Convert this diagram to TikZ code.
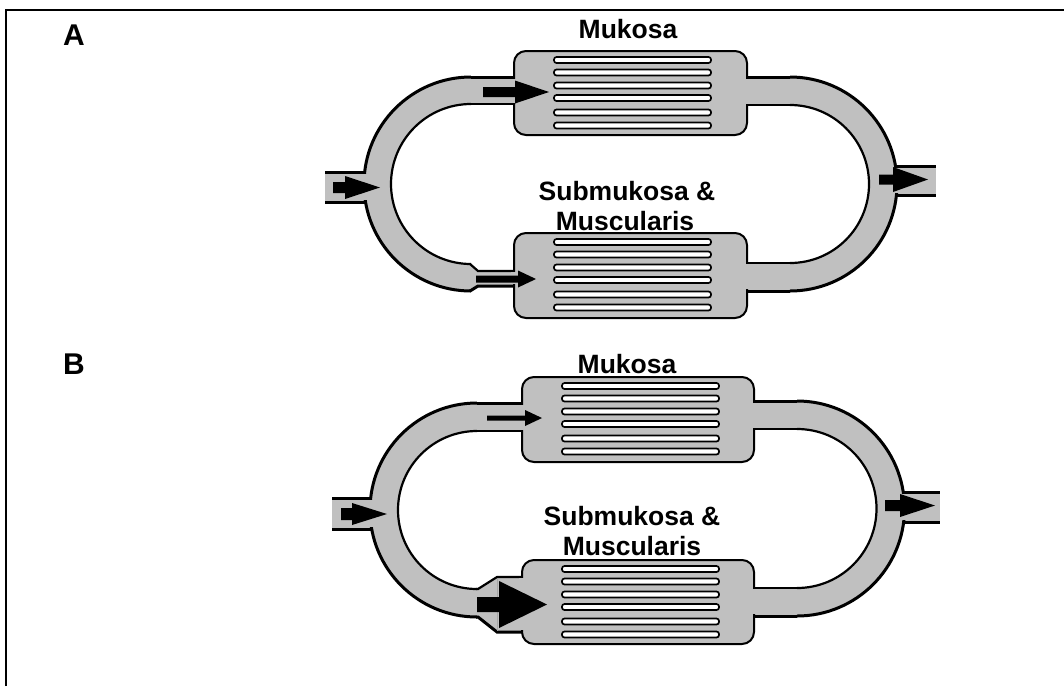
\documentclass[tikz,border=0pt]{standalone}
\usepackage{fontspec}
\setmainfont{Liberation Sans}
\definecolor{tube}{RGB}{192,192,192}

% solid flow arrow: shaft from #1 to #2, head from #2 to tip #3, axis at #4,
% shaft half-height #5, head half-height #6
\newcommand{\flowarrow}[6]{%
  \fill[black] (#1,{#4-#5}) -- (#2,{#4-#5}) -- (#2,{#4-#6}) -- (#3,#4)
    -- (#2,{#4+#6}) -- (#2,{#4+#5}) -- (#1,{#4+#5}) -- cycle;}
% six capillary slots inside a chamber whose top-left corner is (#1,#2)
\newcommand{\lamellae}[2]{%
  \foreach \off in {9,21.5,34.5,47,61.5,74.5}{%
    \draw[lamella] ({#1+40},{#2+\off-3}) rectangle ({#1+197},{#2+\off+3});}}

\begin{document}
\begin{tikzpicture}[x=1pt,y=1pt,yscale=-1,
  wall/.style={line width=3pt},
  inwall/.style={line width=2.2pt},
  casing/.style={fill=tube,draw=black,line width=2pt,rounded corners=12pt},
  lamella/.style={fill=white,draw=black,line width=1.7pt,rounded corners=2.5pt},
  lbl/.style={font=\bfseries\fontsize{26.5}{30}\selectfont,inner sep=0pt,anchor=base},
  panel/.style={font=\bfseries\fontsize{30}{32}\selectfont,inner sep=0pt,anchor=base west}]
\useasboundingbox (0,0) rectangle (1064,686);

% frame
\draw[line width=2pt] (6,686) -- (6,10) -- (1064,10);

% ================= panel A =================
\node[panel] (panA) at (63,45) {A};

% grey channels
\fill[tube] (471,77) arc[start angle=270,end angle=90,radius=107pt]
  -- (471,264) arc[start angle=90,end angle=270,radius=80pt] -- cycle;
\fill[tube] (469,77) rectangle (516,104);
\fill[tube] (470,264) -- (478,271) -- (516,271) -- (516,286) -- (478,286) -- (470,291) -- cycle;
\fill[tube] (790,77) arc[start angle=270,end angle=450,radius=107pt]
  -- (790,263) arc[start angle=90,end angle=-90,radius=79pt] -- cycle;
\fill[tube] (745,77) rectangle (792,105);
\fill[tube] (745,263) rectangle (792,291);
\fill[tube] (325,172) rectangle (372,202);
\fill[tube] (890,166) rectangle (936,195);

% chambers
\draw[casing] (514,51) rectangle (747,135);
\draw[casing] (514,233) rectangle (747,318);

% channel walls
\draw[wall] (471,77) arc[start angle=270,end angle=90,radius=107pt];
\draw[inwall] (471,104) arc[start angle=270,end angle=90,radius=80pt];
\draw[wall] (471,77) -- (514,77);
\draw[inwall] (471,104) -- (514,104);
\draw[inwall] (470,264) -- (478,271) -- (514,271);
\draw[wall] (470,291) -- (478,286) -- (514,286);
\draw[wall] (790,77) arc[start angle=270,end angle=450,radius=107pt];
\draw[inwall] (790,105) arc[start angle=270,end angle=450,radius=79pt];
\draw[wall] (747,77) -- (790,77);
\draw[inwall] (747,105) -- (790,105);
\draw[inwall] (747,263) -- (790,263);
\draw[wall] (747,291) -- (790,291);

% openings
\fill[tube] (511,78.6) rectangle (517,102.8);
\fill[tube] (511,272.2) rectangle (517,284.4);
\fill[tube] (744,78.6) rectangle (750,103.8);
\fill[tube] (744,264.2) rectangle (750,289.4);
\fill[tube] (355,173.6) rectangle (372,200.4);
\fill[tube] (890,167.6) rectangle (905,193.4);

% inlet and outlet
\draw[wall] (325,172) -- (365,172);
\draw[wall] (325,202) -- (366,202);
\draw[wall] (896,166) -- (936,166);
\draw[wall] (896,195) -- (936,195);

\lamellae{514}{51}
\lamellae{514}{233}

\flowarrow{333}{345}{380}{187.5}{5.5}{11.5}
\flowarrow{483}{515}{549}{92}{5}{11.5}
\flowarrow{476}{518}{536}{279}{3.5}{8.5}
\flowarrow{879}{893}{928}{179.5}{5}{12.5}

\node[lbl] (mukA) at (628,38) {Mukosa};
\node[lbl] (subA) at (627,200) {Submukosa \&};
\node[lbl] (musA) at (625,230) {Muscularis};

% ================= panel B =================
\node[panel] (panB) at (63,374) {B};

\fill[tube] (477,403) arc[start angle=270,end angle=90,radius=107pt]
  -- (477,589) arc[start angle=90,end angle=270,radius=79pt] -- cycle;
\fill[tube] (475,403) rectangle (524,431);
\fill[tube] (476,589) -- (497,577) -- (524,577) -- (524,632) -- (497,632) -- (476,617) -- cycle;
\fill[tube] (797,401) arc[start angle=270,end angle=450,radius=107.5pt]
  -- (797,588) arc[start angle=90,end angle=-90,radius=79.5pt] -- cycle;
\fill[tube] (752,401) rectangle (799,429);
\fill[tube] (752,588) rectangle (799,616);
\fill[tube] (332,498) rectangle (380,529);
\fill[tube] (898,492) rectangle (940,522);

\draw[casing] (522,377) rectangle (754,462);
\draw[casing] (522,560) rectangle (754,644);

\draw[wall] (477,403) arc[start angle=270,end angle=90,radius=107pt];
\draw[inwall] (477,431) arc[start angle=270,end angle=90,radius=79pt];
\draw[wall] (477,403) -- (522,403);
\draw[inwall] (477,431) -- (522,431);
\draw[inwall] (476,589) -- (478,589) -- (497,577) -- (522,577);
\draw[wall] (476,617) -- (478,617) -- (497,632) -- (522,632);
\draw[gray!70,line width=0.8pt] (497,578.5) -- (497,630.5);
\draw[wall] (797,401) arc[start angle=270,end angle=450,radius=107.5pt];
\draw[inwall] (797,429) arc[start angle=270,end angle=450,radius=79.5pt];
\draw[wall] (754,401) -- (797,401);
\draw[inwall] (754,429) -- (797,429);
\draw[inwall] (754,588) -- (797,588);
\draw[wall] (754,616) -- (797,616);

\fill[tube] (519,404.6) rectangle (525,429.8);
\fill[tube] (519,578.2) rectangle (525,630.4);
\fill[tube] (751,402.6) rectangle (757,427.8);
\fill[tube] (751,589.2) rectangle (757,614.4);
\fill[tube] (362,499.6) rectangle (380,527.4);
\fill[tube] (897,493.6) rectangle (912,520.4);

\draw[wall] (332,498) -- (372,498);
\draw[wall] (332,529) -- (373,529);
\draw[wall] (903,492) -- (940,492);
\draw[wall] (903,522) -- (940,522);

\lamellae{522}{377}
\lamellae{522}{560}

\flowarrow{341}{352}{387}{514}{6}{11}
\flowarrow{487}{525}{542}{418}{2.5}{8}
\flowarrow{477}{499}{547}{604.5}{7.5}{23.5}
\flowarrow{885}{900}{935}{505.5}{5.5}{11.5}

\node[lbl] (mukB) at (627,373) {Mukosa};
\node[lbl] (subB) at (632,525) {Submukosa \&};
\node[lbl] (musB) at (632,555) {Muscularis};
\end{tikzpicture}
\end{document}
